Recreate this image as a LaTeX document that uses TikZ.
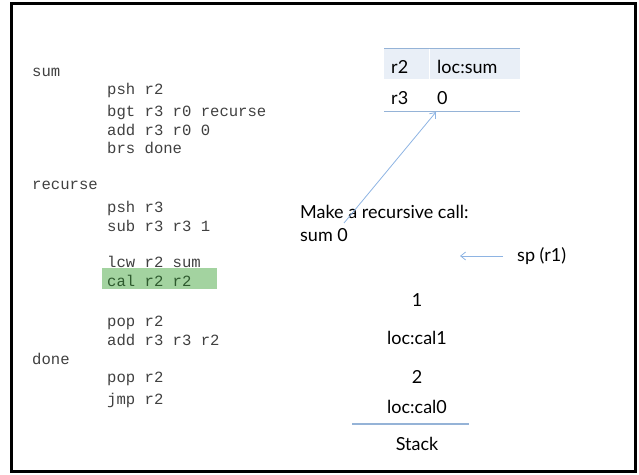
\documentclass[tikz,border=0pt]{standalone}
\usepackage{fontspec}
\setmainfont{Lato}
\newfontfamily\codefont{Liberation Mono}
\usetikzlibrary{arrows.meta}
\definecolor{codegray}{HTML}{404040}
\definecolor{hlgreen}{HTML}{A3D3A0}
\definecolor{hltext}{HTML}{2E5A2E}
\definecolor{tblline}{HTML}{95B3D7}
\definecolor{tblfill}{HTML}{E9EFF7}
\definecolor{arrowblue}{HTML}{8EB4E3}
\tikzset{
  code/.style={anchor=base west, inner sep=0pt, font=\codefont\fontsize{15.6}{16}\selectfont, text=codegray},
  label/.style={anchor=base west, inner sep=0pt, font=\fontsize{18}{20}\selectfont},
  stackitem/.style={anchor=base, inner sep=0pt, font=\fontsize{18}{20}\selectfont},
  pointer/.style={draw=arrowblue, line width=0.8pt, -{Straight Barb[length=5pt,width=8pt]}},
}
\begin{document}
\begin{tikzpicture}[x=1pt, y=-1pt]
\useasboundingbox (0,0) rectangle (639,474);
% slide frame
\draw[line width=2.6pt] (11.5,3.5) rectangle (635.5,471.5);

% highlighted instruction
\fill[hlgreen] (102,268) rectangle (217,289);

% assembly listing
\node[code] (l1)  at (32,76)    {sum};
\node[code] (l2)  at (107,94)   {psh r2};
\node[code] (l3)  at (107,116)  {bgt r3 r0 recurse};
\node[code] (l4)  at (107,135)  {add r3 r0 0};
\node[code] (l5)  at (107,153)  {brs done};
\node[code] (l6)  at (32,189)   {recurse};
\node[code] (l7)  at (107,212.5){psh r3};
\node[code] (l8)  at (107,231)  {sub r3 r3 1};
\node[code] (l9)  at (107,267.5){lcw r2 sum};
\node[code, text=hltext] (l10) at (107,286) {cal r2 r2};
\node[code] (l11) at (107,326)  {pop r2};
\node[code] (l12) at (107,345)  {add r3 r3 r2};
\node[code] (l13) at (32,364)   {done};
\node[code] (l14) at (107,382)  {pop r2};
\node[code] (l15) at (107,404)  {jmp r2};

% register table
\fill[tblfill] (384,48) rectangle (520,79);
\draw[tblline, line width=0.8pt] (384,48) -- (520,48);
\draw[tblline, line width=0.8pt] (384,111) -- (520,111);
\draw[white, line width=0.8pt] (429,48.5) -- (429,79);
\node[label] (r2)   at (391,73.5)  {r2};
\node[label] (r2v)  at (437,73.5)  {loc:sum};
\node[label] (r3)   at (391,104.5) {r3};
\node[label] (r3v)  at (437,104.5) {0};
\coordinate (tblpt) at (436,112);

% call annotation
\node[label] (call1) at (300,218.5) {Make a recursive call:};
\node[label] (call2) at (300,241.5) {sum 0};
\coordinate (callpt) at (344,223);
\draw[pointer] (callpt) -- (tblpt);

% stack pointer
\node[label] (sp) at (517,261) {sp (r1)};
\coordinate (sptail) at (503,256);
\coordinate (sphead) at (460,256);
\draw[pointer] (sptail) -- (sphead);

% stack contents
\node[stackitem] (s1) at (417,306) {1};
\node[stackitem] (s2) at (417,344) {loc:cal1};
\node[stackitem] (s3) at (417,383) {2};
\node[stackitem] (s4) at (417,413) {loc:cal0};
\draw[tblline, line width=1.4pt] (352,424) -- (469,424);
\node[stackitem] (stk) at (417,450) {Stack};
\end{tikzpicture}
\end{document}
